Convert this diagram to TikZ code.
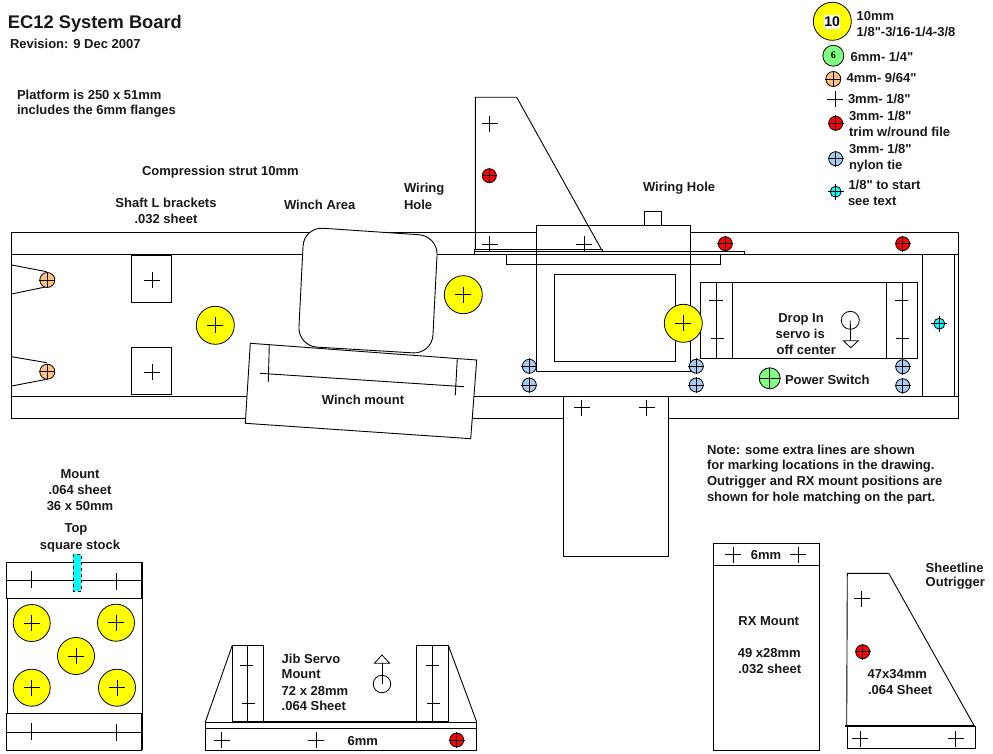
\documentclass[tikz,border=0pt]{standalone}
\usepackage{fontspec}
\setmainfont{Liberation Sans}
\newfontfamily\lblfont{Liberation Sans}
\newfontfamily\numfont{Liberation Serif}
\definecolor{hY}{HTML}{FFFF00}
\definecolor{hG}{HTML}{80FF80}
\definecolor{hO}{HTML}{FFC080}
\definecolor{hR}{HTML}{FF0000}
\definecolor{hB}{HTML}{A6CAF0}
\definecolor{hC}{HTML}{00FFFF}
\tikzset{
  part/.style={draw=black,fill=white,line width=0.9pt},
  ln/.style={draw=black,line width=0.9pt},
  thin ln/.style={draw=black,line width=0.8pt},
  heavy/.style={draw=black,line width=2.2pt},
  lbl/.style={inner sep=0pt,outer sep=0pt,yshift=-0.7pt,font=\lblfont\fontsize{13}{15}\selectfont\bfseries,text=black!90},
  hole/.style={circle,draw=black,line width=0.8pt,inner sep=0pt},
  holeY/.style={hole,fill=hY,minimum size=38pt},
  holeYs/.style={hole,fill=hY,minimum size=37pt},
  holeG/.style={hole,fill=hG,minimum size=21pt},
  holeO/.style={hole,fill=hO,minimum size=15pt},
  holeR/.style={hole,fill=hR,minimum size=14pt},
  holeB/.style={hole,fill=hB,minimum size=14pt},
  holeC/.style={hole,fill=hC,minimum size=11pt},
}
\newcommand\hole[5]{% name, x, y, style, half length of the cross
  \node[#4] (#1) at (#2,#3) {};
  \draw[thin ln] (#1.center) +(-#5,0) -- +(#5,0) (#1.center) +(0,-#5) -- +(0,#5);
}
\newcommand\plusmark[2]{%
  \draw[thin ln] (#1,#2) +(-8,0) -- +(8,0) (#1,#2) +(0,-8) -- +(0,8);
}
\newcommand\ltext[4]{\node[lbl,anchor=west] (#1) at (#2,#3) {#4};}
\newcommand\ctext[4]{\node[lbl,anchor=center] (#1) at (#2,#3) {#4};}
\begin{document}
\begin{tikzpicture}[x=1pt,y=-1pt]
\useasboundingbox[fill=white] (0,0) rectangle (993,754);

% ---- main board
\draw[part] (11.5,232) rectangle (958,418);
\draw[ln] (11.5,254) -- (958,254);
\draw[ln] (11.5,396) -- (958,396);
\draw[ln] (922.3,254) -- (922.3,396);
\draw[ln] (954.3,254) -- (954.3,396);

% V cuts at the left end
\draw[ln] (11.7,265) -- (46.7,271.7);
\draw[ln] (11.7,294) -- (46.7,286.7);
\draw[ln] (11.7,356.7) -- (46.7,362.7);
\draw[ln] (11.7,386) -- (46.7,379.3);

% L brackets
\draw[part] (131.7,255) rectangle (171.7,302.3);
\draw[part] (131.7,347.3) rectangle (171.7,394.3);
\plusmark{152}{280}
\plusmark{152}{372}

% winch area and mount
\draw[part,rounded corners=19pt] (304,227) -- (438,236) -- (432,354) -- (298,346) -- cycle;
\draw[part] (250.3,343.3) -- (476.7,360) -- (470.7,438.7) -- (245.3,423.3) -- cycle;
\draw[ln] (260,373.3) -- (464,386.7);
\draw[ln] (269.3,344.3) -- (268.3,381.7);
\draw[ln] (457.3,358.3) -- (455.3,395);

% RX mount on board
\draw[part] (563.3,396.3) rectangle (668.3,556);
\plusmark{581.7}{407.7}
\plusmark{646.7}{407.7}

% servo
\draw[part] (644.3,211.3) rectangle (661.7,225.3);
\draw[part] (536.7,225.3) rectangle (690.3,371.3);
\draw[part] (554.3,274.3) rectangle (675.3,361.3);
\draw[part] (474.3,251.7) rectangle (744.3,254.3);
\draw[ln] (506.3,254.3) rectangle (720.3,264.3);
\draw[ln] (536.7,251.7) -- (536.7,264.3);
\draw[ln] (690.3,251.7) -- (690.3,264.3);

% outrigger on board
\draw[ln] (475.3,249.3) -- (475.3,97.3) -- (516.7,97.3) -- (601.7,250);
\draw[ln] (474.3,249.3) -- (602.7,249.3) -- (602.7,251.7);
\draw[ln] (474.3,249.3) -- (474.3,251.7);
\plusmark{489.7}{123.7}
\plusmark{489.7}{244}
\plusmark{584}{244}

% drop-in servo
\draw[part] (700.7,282.3) rectangle (917.7,358.3);
\draw[ln] (716.3,282.3) -- (716.3,358.3);
\draw[ln] (732.3,282.3) -- (732.3,358.3);
\draw[ln] (886.7,282.3) -- (886.7,358.3);
\draw[ln] (902.3,282.3) -- (902.3,358.3);
\draw[thin ln] (709,300.3) -- (723,300.3) (711,338.3) -- (724.3,338.3);
\draw[thin ln] (895,300.3) -- (908.3,300.3) (896,338.3) -- (908.7,338.3);
\node[circle,draw=black,line width=0.8pt,inner sep=0pt,minimum size=18pt] (dropc) at (850.3,320.3) {};
\coordinate (droptip) at (850.5,340.7);
\draw[thin ln] (dropc.center) -- (droptip);
\draw[thin ln] (843.3,340.7) -- (858.3,340.7) -- (850.7,347.7) -- cycle;

% holes on the board
\hole{oa}{47.3}{280}{holeO}{8}
\hole{ob}{47.3}{371.7}{holeO}{8}
\hole{ya}{215.3}{325.3}{holeY}{8}
\hole{yb}{463.3}{294.7}{holeY}{8}
\hole{yc}{683.3}{323.3}{holeY}{8}
\hole{ra}{489.3}{175.7}{holeR}{7.5}
\hole{rb}{725.3}{243.7}{holeR}{8}
\hole{rc}{902.7}{243.7}{holeR}{8}
\hole{ba}{529.3}{366.3}{holeB}{8}
\hole{bb}{529.3}{385}{holeB}{8}
\hole{bc}{696.3}{366.3}{holeB}{8}
\hole{bd}{696.3}{385}{holeB}{8}
\hole{be}{902.7}{366.7}{holeB}{8}
\hole{bf}{902.7}{385.7}{holeB}{8}
\hole{ca}{939.3}{323.7}{holeC}{8}
\hole{ga}{769.7}{378.3}{holeG}{10}

% ---- legend
\node[holeY] (ly) at (832.3,21.3) {};
\node[fill=white,inner sep=0pt,minimum size=14.5pt,font=\lblfont\fontsize{14}{15}\selectfont\bfseries] (lyn) at (832.2,22) {10};
\node[holeG,font=\fontsize{10}{12}\selectfont\bfseries\numfont] (lg) at (833.3,55.7) {6};
\hole{lo}{833.3}{79}{holeO}{8}
\plusmark{835}{99}
\hole{lr}{835.7}{123.3}{holeR}{8}
\hole{lb}{835.7}{158.7}{holeB}{8}
\hole{lc}{835.7}{191.7}{holeC}{8}
\ltext{t10a}{856.7}{15}{10mm}
\ltext{t10b}{856.7}{31}{1/8"-3/16-1/4-3/8}
\ltext{t6}{850.7}{56}{6mm- 1/4"}
\ltext{t4}{846.7}{77.5}{4mm- 9/64"}
\ltext{t3}{848}{98}{3mm- 1/8"}
\ltext{t3ra}{849}{115}{3mm- 1/8"}
\ltext{t3rb}{849}{131.5}{trim w/round file}
\ltext{t3ba}{849}{148.5}{3mm- 1/8"}
\ltext{t3bb}{849}{165}{nylon tie}
\ltext{tca}{848.5}{184.5}{1/8" to start}
\ltext{tcb}{848}{200.5}{see text}

% ---- mount (lower left)
\draw[part] (7.3,598.3) rectangle (142.3,713.3);
\draw[part] (6.3,562.3) rectangle (141.7,598.3);
\draw[part] (6.3,713.3) rectangle (141.7,750.3);
\draw[ln] (6.3,580.3) -- (141.7,580.3);
\draw[ln] (6.3,732.3) -- (141.7,732.3);
\draw[heavy] (142,562.3) -- (142,598);
\draw[heavy] (142,713.3) -- (142,750.3);
\draw[thin ln] (31.3,571) -- (31.3,587.7) (116.7,573) -- (116.7,589.7);
\draw[thin ln] (31.3,723) -- (31.3,739.7) (116.7,724) -- (116.7,740.7);
\draw[fill=hC,draw=black,dashed,line width=0.8pt] (73,554.3) rectangle (81.3,591.3);
\hole{ma}{31.7}{623}{holeYs}{8}
\hole{mb}{116}{622.7}{holeYs}{8}
\hole{mc}{76}{656}{holeYs}{8}
\hole{md}{31.7}{687.7}{holeYs}{8}
\hole{me}{117}{687.7}{holeYs}{8}

% ---- jib servo mount
\draw[ln] (232.3,645.3) -- (205.3,722);
\draw[ln] (448.3,645.3) -- (476.7,722);
\draw[part] (232.3,645.3) rectangle (263.3,721.3);
\draw[part] (416.7,645.3) rectangle (448.3,721.3);
\draw[ln] (247.3,645.3) -- (247.3,721.3);
\draw[ln] (432.3,645.3) -- (432.3,721.3);
\draw[thin ln] (240,665) -- (252.7,665) (242,703.3) -- (255,703.3);
\draw[thin ln] (426,665) -- (439,665) (427,703.3) -- (440,703.3);
\draw[part] (205.3,722.7) rectangle (476.7,750.7);
\draw[ln] (205.3,728.7) -- (476.7,728.7);
\draw[heavy,line width=2pt] (232.3,721.6) -- (448.3,721.6);
\plusmark{221.7}{740}
\plusmark{316}{740}
\hole{jr}{456.7}{740}{holeR}{8}
\node[circle,draw=black,line width=0.8pt,inner sep=0pt,minimum size=17.5pt] (jibc) at (382,684) {};
\coordinate (jibtip) at (382,663.3);
\draw[thin ln] (jibc.center) -- (jibtip);
\draw[thin ln] (374.3,663.3) -- (389.7,663.3) -- (382,655) -- cycle;

% ---- RX mount
\draw[part] (713.3,543.3) rectangle (819.7,750.7);
\draw[ln] (713.3,565.3) -- (819.7,565.3);
\plusmark{733}{554.7}
\plusmark{798.3}{554.7}

% ---- sheetline outrigger
\draw[ln] (846.7,726) -- (847.3,573.3) -- (888.7,573.3) -- (974.3,726);
\draw[part] (847.3,726) rectangle (975.7,748.3);
\draw[heavy,line width=1.8pt] (845.3,726) -- (974.3,726);
\plusmark{861.7}{598.7}
\plusmark{860}{738.7}
\plusmark{955.7}{738.7}
\hole{sr}{862.7}{651.7}{holeR}{8}

% ---- texts
\node[lbl,anchor=west,font=\lblfont\fontsize{18.3}{20}\selectfont\bfseries] (title) at (8,23) {EC12 System Board};
\ltext{rev}{10}{43}{Revision: 9 Dec 2007}
\ltext{pa}{17}{94}{Platform is 250 x 51mm}
\ltext{pb}{17}{110}{includes the 6mm flanges}
\ltext{comp}{142}{171}{Compression strut 10mm}
\ctext{sa}{166}{202}{Shaft L brackets}
\ctext{sb}{166}{218}{.032 sheet}
\ltext{wa}{284}{204}{Winch Area}
\ltext{wha}{404}{188}{Wiring}
\ltext{whb}{404}{204}{Hole}
\ltext{whc}{643}{187}{Wiring Hole}
\ctext{wm}{363}{399}{Winch mount}
\ltext{di}{778.3}{318.3}{Drop In}
\ltext{dib}{775.7}{333.5}{servo is}
\ltext{dic}{776.7}{349.5}{off center}
\ltext{pow}{785}{379}{Power Switch}
\ltext{na}{707}{449}{Note: some extra lines are shown}
\ltext{nb}{707}{465}{for marking locations in the drawing.}
\ltext{nc}{707}{481}{Outrigger and RX mount positions are}
\ltext{nd}{707}{497}{shown for hole matching on the part.}
\ctext{ma1}{80}{473}{Mount}
\ctext{ma2}{80}{489}{.064 sheet}
\ctext{ma3}{80}{505}{36 x 50mm}
\ctext{ma4}{76}{529}{Top}
\ctext{ma5}{80}{545}{square stock}
\ltext{ja}{281.7}{658.3}{Jib Servo}
\ltext{jb}{281.7}{673.7}{Mount}
\ltext{jc}{281.7}{690}{72 x 28mm}
\ltext{jd}{281.7}{705}{.064 Sheet}
\ctext{j6}{362.7}{740}{6mm}
\ctext{rx6}{766}{554.7}{6mm}
\ctext{rxa}{768.7}{620.7}{RX Mount}
\ctext{rxb}{769.3}{652.7}{49 x28mm}
\ctext{rxc}{769.7}{668.3}{.032 sheet}
\ltext{sla}{925.7}{566.7}{Sheetline}
\ltext{slb}{925.7}{582.7}{Outrigger}
\ltext{sma}{867.7}{673}{47x34mm}
\ltext{smb}{868}{689.3}{.064 Sheet}
\end{tikzpicture}
\end{document}
